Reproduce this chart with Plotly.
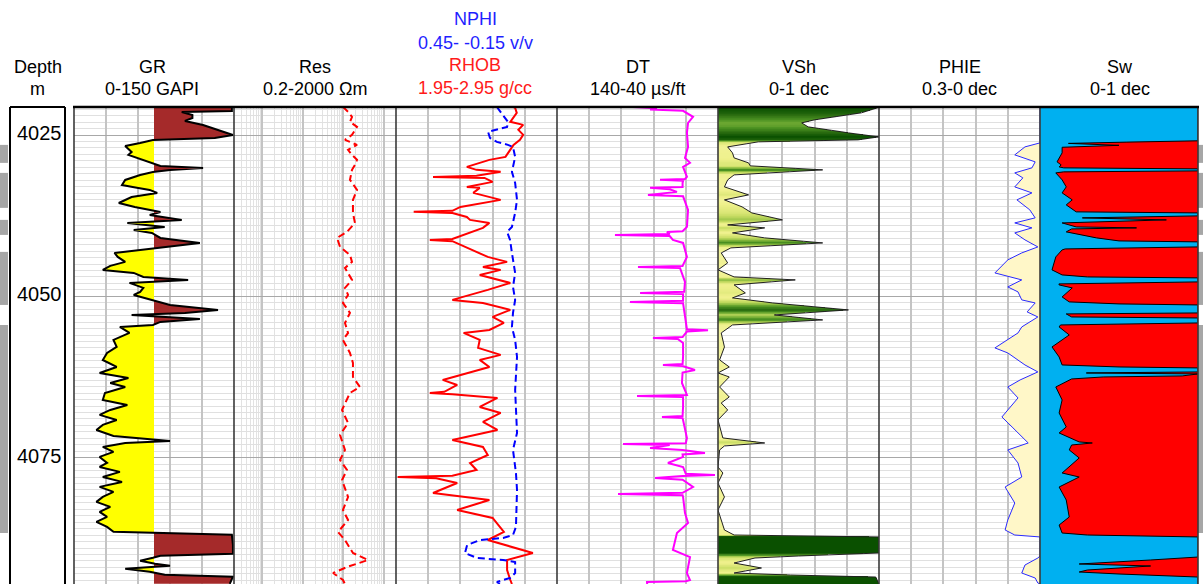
import numpy as np
import plotly.graph_objects as go

# ------------------------------------------------------------------ data
TOP_DEPTH, BASE_DEPTH = 4020.66, 4094.57
DEPTH_LABELS = [4025, 4050, 4075]
GR_CUTOFF = 75

GR_DEPTH = [4020.66, 4021.28, 4021.43, 4021.90, 4022.36, 4022.82, 4023.44, 4023.91, 4024.37, 4025.00,
            4025.46, 4025.77, 4026.23, 4026.70, 4027.32, 4027.63, 4028.09, 4028.56, 4029.33, 4029.80,
            4030.10, 4030.41, 4030.72, 4031.19, 4031.96, 4032.74, 4033.05, 4033.51, 4033.98, 4034.60,
            4035.53, 4036.15, 4036.92, 4037.39, 4038.16, 4038.62, 4039.24, 4039.71, 4040.17, 4040.95,
            4041.72, 4042.34, 4042.81, 4043.27, 4043.89, 4044.66, 4045.28, 4045.90, 4046.37, 4046.99,
            4047.45, 4047.76, 4047.92, 4048.69, 4049.31, 4049.78, 4050.55, 4051.33, 4052.10, 4052.57,
            4052.88, 4053.50, 4053.96, 4054.43, 4054.74, 4055.67, 4056.75, 4057.84, 4058.77, 4059.86,
            4060.94, 4061.87, 4062.64, 4063.42, 4064.04, 4064.97, 4066.05, 4066.83, 4067.60, 4068.37,
            4069.15, 4069.92, 4070.70, 4071.63, 4072.40, 4072.71, 4073.33, 4074.10, 4074.88, 4075.81,
            4076.43, 4077.20, 4077.98, 4078.75, 4079.52, 4080.30, 4081.07, 4081.85, 4082.62, 4083.39,
            4084.17, 4084.94, 4085.72, 4086.49, 4086.95, 4088.50, 4089.89, 4090.20, 4090.51, 4090.97,
            4091.44, 4091.75, 4092.21, 4092.68, 4093.14, 4093.45, 4094.54]
GR = [148, 148, 101, 111, 111, 104, 121, 130, 139, 149,
      132, 74, 62, 48, 52, 54, 51, 59, 71, 81,
      121, 90, 74, 62, 48, 45, 55, 71, 78, 54,
      42, 57, 81, 71, 101, 50, 85, 56, 73, 81,
      118, 85, 62, 38, 41, 48, 34, 27, 56, 65,
      107, 71, 52, 65, 62, 56, 74, 90, 135, 104,
      54, 118, 81, 74, 43, 52, 37, 40, 31, 27,
      40, 24, 51, 34, 48, 29, 27, 50, 34, 24,
      40, 27, 21, 37, 90, 48, 27, 37, 24, 31,
      24, 43, 27, 45, 24, 37, 27, 21, 34, 24,
      31, 21, 31, 37, 148, 149, 149, 81, 74, 62,
      76, 90, 48, 71, 85, 149, 146]

RES_DEPTH = [4020.64, 4021.41, 4022.19, 4022.96, 4023.74, 4024.98, 4025.75, 4026.53, 4027.30, 4028.08,
             4028.85, 4029.63, 4030.40, 4031.95, 4033.50, 4035.05, 4037.07, 4038.62, 4040.01, 4040.94,
             4042.34, 4043.58, 4044.66, 4045.59, 4047.45, 4048.69, 4049.78, 4051.02, 4052.57, 4054.12,
             4055.67, 4056.75, 4058.77, 4060.32, 4062.49, 4064.04, 4064.97, 4065.59, 4067.60, 4069.62,
             4071.48, 4073.80, 4075.35, 4076.90, 4078.45, 4081.09, 4083.10, 4084.65, 4086.51, 4087.75,
             4089.77, 4090.85, 4091.94, 4092.87, 4093.95, 4094.57]
RES = [98, 131, 164, 146, 218, 164, 110, 218, 131, 164,
       218, 194, 164, 146, 218, 173, 173, 194, 123, 70,
       83, 146, 164, 110, 164, 110, 131, 98, 146, 110,
       131, 98, 146, 173, 173, 258, 146, 131, 93, 131,
       83, 110, 83, 123, 93, 131, 98, 131, 74, 110,
       173, 407, 123, 56, 98, 110]

RHOB_DEPTH = [4020.66, 4020.79, 4021.57, 4022.96, 4023.43, 4024.20, 4024.98, 4025.75, 4026.53, 4027.61,
              4028.39, 4028.85, 4029.94, 4030.40, 4030.71, 4031.30, 4031.49, 4031.65, 4032.26, 4033.04,
              4033.19, 4033.97, 4035.05, 4036.14, 4036.75, 4036.91, 4037.10, 4037.69, 4038.15, 4038.62,
              4039.39, 4041.10, 4041.25, 4041.45, 4042.03, 4043.11, 4043.89, 4044.66, 4045.44, 4045.90,
              4046.68, 4047.92, 4049.00, 4050.55, 4051.02, 4052.10, 4053.19, 4054.12, 4055.20, 4055.67,
              4056.75, 4057.99, 4059.07, 4059.85, 4060.94, 4062.95, 4063.73, 4064.80, 4064.97, 4065.15,
              4065.74, 4067.14, 4068.07, 4069.46, 4070.70, 4072.25, 4073.34, 4074.58, 4075.82, 4076.90,
              4077.80, 4077.99, 4078.20, 4078.92, 4080.47, 4081.55, 4083.10, 4084.34, 4086.51, 4087.75,
              4089.77, 4090.85, 4092.40, 4093.95, 4094.57]
RHOB = [2.68, 2.69, 2.70, 2.66, 2.74, 2.71, 2.74, 2.72, 2.68, 2.65,
        2.63, 2.53, 2.39, 2.45, 2.60, 2.45, 2.18, 2.50, 2.55, 2.39,
        2.47, 2.43, 2.60, 2.35, 2.30, 2.06, 2.30, 2.39, 2.41, 2.53,
        2.49, 2.30, 2.16, 2.30, 2.35, 2.45, 2.52, 2.64, 2.49, 2.60,
        2.47, 2.66, 2.52, 2.30, 2.49, 2.66, 2.55, 2.62, 2.53, 2.37,
        2.47, 2.46, 2.60, 2.47, 2.53, 2.24, 2.33, 2.25, 2.16, 2.30,
        2.58, 2.47, 2.60, 2.49, 2.58, 2.30, 2.49, 2.52, 2.41, 2.45,
        2.30, 1.96, 2.20, 2.33, 2.18, 2.53, 2.33, 2.55, 2.62, 2.52,
        2.80, 2.64, 2.64, 2.66, 2.67]

NPHI_DEPTH = [4020.66, 4021.88, 4022.96, 4023.74, 4024.51, 4025.44, 4026.06, 4026.53, 4026.84, 4028.39,
              4030.71, 4032.42, 4035.05, 4037.07, 4039.24, 4040.01, 4041.25, 4043.27, 4046.37, 4048.54,
              4050.55, 4052.57, 4054.74, 4056.75, 4059.39, 4064.50, 4071.17, 4073.80, 4077.37, 4080.00,
              4085.74, 4086.98, 4087.44, 4087.75, 4088.53, 4089.77, 4090.54, 4090.85, 4091.16, 4092.87,
              4093.64, 4094.26, 4094.57]
NPHI = [0.074, 0.051, 0.033, 0.036, 0.107, 0.100, 0.074, 0.033, 0.014, 0.006,
        0.018, 0.006, -0.001, 0.006, 0.018, 0.036, 0.025, 0.018, 0.006, 0.014,
        0.006, 0.014, 0.018, 0.006, -0.001, 0.006, -0.001, 0.014, 0.003, -0.001,
        0.003, 0.014, 0.051, 0.137, 0.185, 0.193, 0.148, 0.051, 0.006, 0.006,
        0.025, 0.074, 0.060]

DT_DEPTH = [4020.66, 4020.85, 4021.05, 4021.25, 4022.19, 4023.12, 4024.66, 4026.84, 4028.54, 4029.32,
            4029.94, 4031.49, 4031.80, 4031.95, 4032.10, 4032.42, 4033.05, 4033.19, 4033.40, 4033.81,
            4034.28, 4034.50, 4036.60, 4039.24, 4039.90, 4040.01, 4040.35, 4040.48, 4040.65, 4041.25,
            4041.72, 4043.89, 4045.13, 4045.30, 4045.44, 4045.60, 4047.76, 4049.30, 4049.47, 4049.65,
            4050.70, 4050.86, 4051.05, 4053.19, 4055.10, 4055.25, 4055.45, 4056.30, 4056.44, 4056.60,
            4057.22, 4059.39, 4060.50, 4060.63, 4060.80, 4061.40, 4061.80, 4063.42, 4065.28, 4065.43,
            4065.60, 4067.14, 4068.55, 4068.69, 4068.85, 4069.15, 4071.94, 4072.75, 4072.87, 4073.05,
            4073.49, 4073.80, 4074.27, 4074.50, 4074.89, 4075.82, 4076.44, 4077.50, 4077.68, 4077.85,
            4078.14, 4078.40, 4079.54, 4080.45, 4080.62, 4080.80, 4081.09, 4083.57, 4085.12, 4086.67,
            4089.30, 4090.39, 4092.87, 4093.95, 4094.15, 4094.26, 4094.57]
DT = [92.8, 77.9, 82.2, 61.7, 55.5, 58.6, 59.3, 58.6, 60.5, 57.4,
      61.7, 59.3, 60.5, 76.0, 61.7, 62.0, 62.0, 82.2, 70.0, 65.5,
      83.5, 61.7, 58.6, 59.3, 62.0, 71.7, 70.0, 104.0, 70.0, 68.0,
      61.7, 59.3, 61.7, 62.0, 89.7, 63.6, 60.5, 61.0, 88.4, 61.7,
      61.7, 94.7, 61.7, 60.5, 59.3, 46.2, 59.3, 62.0, 80.4, 65.0,
      61.7, 61.7, 62.0, 74.2, 62.0, 54.3, 62.0, 62.4, 59.3, 90.3,
      61.7, 61.7, 62.0, 74.8, 62.0, 61.7, 59.3, 60.0, 99.0, 70.0,
      82.2, 62.0, 48.1, 62.0, 61.7, 71.1, 61.7, 60.0, 41.9, 62.0,
      79.1, 62.0, 55.5, 62.0, 102.1, 62.0, 61.7, 60.5, 58.6, 65.5,
      68.0, 57.4, 59.3, 57.4, 60.0, 84.1, 84.0]

VSH_DEPTH = [4020.64, 4020.79, 4021.57, 4022.65, 4023.12, 4023.74, 4024.51, 4024.67, 4025.29, 4025.75,
             4026.06, 4026.84, 4027.77, 4028.54, 4029.32, 4029.78, 4030.40, 4030.71, 4031.18, 4031.95,
             4033.04, 4034.28, 4035.05, 4036.14, 4037.07, 4038.15, 4038.93, 4039.39, 4040.17, 4040.94,
             4041.72, 4042.49, 4043.27, 4044.82, 4045.90, 4046.99, 4047.45, 4048.22, 4049.47, 4050.24,
             4051.02, 4052.10, 4052.88, 4053.65, 4054.43, 4055.67, 4057.84, 4059.85, 4060.94, 4061.87,
             4062.49, 4064.04, 4065.59, 4066.52, 4067.60, 4069.15, 4071.94, 4072.72, 4073.18, 4073.80,
             4076.44, 4077.37, 4078.92, 4081.09, 4083.10, 4086.20, 4086.98, 4087.28, 4089.77, 4090.23,
             4090.54, 4091.32, 4092.09, 4092.87, 4093.18, 4093.49, 4094.57]
VSH = [1.0, 0.99, 0.89, 0.60, 0.52, 0.56, 0.77, 0.81, 1.0, 0.87,
       0.25, 0.06, 0.09, 0.10, 0.19, 0.20, 0.65, 0.40, 0.10, 0.06,
       0.04, 0.19, 0.04, 0.15, 0.21, 0.40, 0.06, 0.29, 0.09, 0.29,
       0.65, 0.08, 0.02, 0.06, 0.0, 0.10, 0.48, 0.10, 0.17, 0.09,
       0.34, 0.81, 0.35, 0.65, 0.09, 0.02, 0.04, 0.01, 0.07, 0.0,
       0.07, 0.01, 0.07, 0.02, 0.06, 0.0, 0.03, 0.29, 0.04, 0.01,
       0.0, 0.03, 0.0, 0.04, 0.0, 0.04, 0.10, 1.0, 1.0, 0.50,
       0.23, 0.10, 0.27, 0.10, 0.45, 0.98, 1.0]

PHIE_DEPTH = [4020.66, 4026.06, 4026.22, 4026.84, 4028.08, 4029.16, 4030.09, 4030.87, 4031.64, 4033.04,
              4033.97, 4035.05, 4036.60, 4037.84, 4038.62, 4039.39, 4040.17, 4041.25, 4042.34, 4043.27,
              4044.35, 4046.37, 4047.45, 4048.54, 4049.31, 4050.55, 4051.02, 4052.41, 4053.19, 4054.74,
              4055.67, 4057.99, 4058.77, 4060.63, 4061.71, 4062.95, 4064.04, 4065.74, 4068.69, 4070.24,
              4072.72, 4073.80, 4075.82, 4077.99, 4079.54, 4082.02, 4084.65, 4086.20, 4086.98, 4087.28,
              4090.23, 4090.54, 4091.63, 4092.87, 4093.64, 4094.42, 4094.57]
PHIE = [0.0, 0.0, 0.0, 0.028, 0.047, 0.009, 0.015, 0.047, 0.032, 0.047,
        0.015, 0.043, 0.019, 0.009, 0.047, 0.015, 0.047, 0.028, 0.004, 0.034,
        0.060, 0.084, 0.034, 0.060, 0.041, 0.034, 0.009, 0.024, 0.004, 0.034,
        0.041, 0.084, 0.060, 0.028, 0.004, 0.037, 0.060, 0.041, 0.071, 0.052,
        0.022, 0.060, 0.041, 0.034, 0.065, 0.047, 0.060, 0.065, 0.047, 0.0,
        0.0, 0.004, 0.028, 0.034, 0.009, 0.004, 0.0]

SW_DEPTH = [4020.66, 4025.90, 4026.10, 4026.30, 4026.60, 4026.90, 4027.77, 4029.16, 4029.63, 4029.94,
            4030.09, 4030.25, 4030.56, 4030.71, 4030.87, 4031.95, 4033.04, 4033.97, 4035.05, 4035.83,
            4036.91, 4037.07, 4037.53, 4037.84, 4038.15, 4038.46, 4038.62, 4039.24, 4039.39, 4039.55,
            4040.01, 4040.94, 4041.41, 4041.56, 4042.34, 4042.65, 4042.80, 4043.89, 4045.90, 4046.68,
            4046.99, 4047.14, 4047.76, 4048.07, 4048.23, 4048.69, 4050.09, 4050.86, 4051.17, 4051.33,
            4052.57, 4052.72, 4053.19, 4053.35, 4054.12, 4054.43, 4054.74, 4055.98, 4057.84, 4059.39,
            4060.63, 4060.94, 4061.09, 4061.71, 4061.87, 4062.02, 4062.33, 4062.49, 4062.80, 4064.04,
            4066.05, 4068.07, 4070.24, 4071.17, 4072.56, 4072.72, 4073.03, 4073.80, 4075.04, 4077.37,
            4077.99, 4079.54, 4081.55, 4084.19, 4085.43, 4086.67, 4086.98, 4087.28, 4090.39, 4090.85,
            4091.16, 4091.47, 4091.78, 4092.09, 4092.40, 4092.71, 4093.02, 4093.49, 4094.57]
SW = [1.0, 1.0, 0.55, 0.18, 0.50, 0.14, 0.14, 0.108, 0.134, 0.121,
      0.15, 1.0, 1.0, 0.15, 0.10, 0.14, 0.166, 0.14, 0.204, 0.166,
      0.229, 1.0, 1.0, 0.268, 0.80, 0.30, 0.14, 0.229, 0.611, 0.20,
      0.166, 0.357, 0.50, 1.0, 1.0, 0.16, 0.14, 0.10, 0.076, 0.14,
      0.30, 1.0, 1.0, 0.12, 0.121, 0.204, 0.14, 0.185, 0.50, 1.0,
      1.0, 0.166, 0.20, 1.0, 1.0, 0.13, 0.121, 0.185, 0.076, 0.121,
      0.14, 0.50, 1.0, 1.0, 0.293, 1.0, 0.90, 0.40, 0.20, 0.10,
      0.14, 0.121, 0.166, 0.121, 0.248, 0.331, 0.20, 0.185, 0.248, 0.14,
      0.248, 0.121, 0.166, 0.185, 0.121, 0.14, 0.30, 1.0, 1.0, 0.70,
      0.50, 0.248, 0.70, 0.50, 0.30, 0.248, 0.50, 1.0, 1.0]

FLAG_TOP = [4026.53, 4030.87, 4038.15, 4043.11, 4054.43]
FLAG_BASE = [4029.32, 4036.29, 4040.48, 4051.33, 4086.67]

# ------------------------------------------------------------------ layout helpers
W, H = 1203, 584
TOPPX = 107
FONT = "Liberation Sans, Arial, sans-serif"
VGRID = "#c4c4c4"


def dom(a, b):
    return [a / W, b / W]


def py(p):
    return (H - p) / (H - TOPPX)


def pair(d, v):
    n = min(len(d), len(v))
    return np.array(d[:n], float), np.array(v[:n], float)


def split_cross(d, v, level):
    nd, nv = [d[0]], [v[0]]
    for i in range(1, len(d)):
        a, b = v[i - 1], v[i]
        if (a - level) * (b - level) < 0:
            t = (level - a) / (b - a)
            nd.append(d[i - 1] + t * (d[i] - d[i - 1]))
            nv.append(level)
        nd.append(d[i])
        nv.append(v[i])
    return np.array(nd), np.array(nv)


fig = go.Figure()
NOLINE = dict(width=0, color="rgba(0,0,0,0)")

# ---- depth labels
fig.add_trace(go.Scatter(x=[0.53] * len(DEPTH_LABELS), y=DEPTH_LABELS, mode="text",
                         text=[str(d) for d in DEPTH_LABELS],
                         textfont=dict(size=20, family=FONT, color="black"),
                         xaxis="x", yaxis="y2", hoverinfo="skip"))

# ---- GR track
gd, gv = pair(GR_DEPTH, GR)
gd2, gv2 = split_cross(gd, gv, GR_CUTOFF)
base = np.full_like(gd2, GR_CUTOFF)
fig.add_trace(go.Scatter(x=base, y=gd2, mode="lines", line=NOLINE, xaxis="x2", yaxis="y", hoverinfo="skip"))
fig.add_trace(go.Scatter(x=np.minimum(gv2, GR_CUTOFF), y=gd2, mode="lines", line=NOLINE, fill="tonextx",
                         fillcolor="#ffff00", xaxis="x2", yaxis="y", hoverinfo="skip"))
fig.add_trace(go.Scatter(x=base, y=gd2, mode="lines", line=NOLINE, xaxis="x2", yaxis="y", hoverinfo="skip"))
fig.add_trace(go.Scatter(x=np.maximum(gv2, GR_CUTOFF), y=gd2, mode="lines", line=NOLINE, fill="tonextx",
                         fillcolor="#a52a2a", xaxis="x2", yaxis="y", hoverinfo="skip"))
fig.add_trace(go.Scatter(x=gv, y=gd, mode="lines", line=dict(color="black", width=2),
                         xaxis="x2", yaxis="y", name="GR"))

# ---- Res track
rd, rv = pair(RES_DEPTH, RES)
fig.add_trace(go.Scatter(x=rv, y=rd, mode="lines", line=dict(color="#ff0000", width=2, dash="7px,4px"),
                         xaxis="x3", yaxis="y", name="Res"))

# ---- RHOB / NPHI track
hd, hv = pair(RHOB_DEPTH, RHOB)
fig.add_trace(go.Scatter(x=hv, y=hd, mode="lines", line=dict(color="#ff0000", width=2),
                         xaxis="x4", yaxis="y", name="RHOB"))
nd_, nv_ = pair(NPHI_DEPTH, NPHI)
fig.add_trace(go.Scatter(x=nv_, y=nd_, mode="lines", line=dict(color="#0000ff", width=2, dash="7px,4px"),
                         xaxis="x5", yaxis="y", name="NPHI"))

# ---- DT track
dd, dv = pair(DT_DEPTH, DT)
fig.add_trace(go.Scatter(x=dv, y=dd, mode="lines", line=dict(color="#ff00ff", width=2),
                         xaxis="x6", yaxis="y", name="DT"))

# ---- VSh track (colour fill by value)
vd, vv = pair(VSH_DEPTH, VSH)
dfine = np.arange(TOP_DEPTH, BASE_DEPTH + 0.1, 0.1)
vf = np.interp(dfine, vd, vv)
xs = (np.arange(161) + 0.5) / 161
z = np.where(xs[None, :] <= vf[:, None], vf[:, None], np.nan)
fig.add_trace(go.Heatmap(x=xs, y=dfine, z=z, zmin=0, zmax=1, showscale=False, hoverinfo="skip",
                         colorscale=[[0, "#f4f4a0"], [0.12, "#eef08a"], [0.3, "#c6dc62"], [0.45, "#8cbc40"],
                                     [0.6, "#4c9222"], [0.8, "#2a6c10"], [1, "#0a5000"]],
                         xaxis="x7", yaxis="y"))
fig.add_trace(go.Scatter(x=vv, y=vd, mode="lines", line=dict(color="#202020", width=1),
                         xaxis="x7", yaxis="y", name="VSh"))

# ---- PHIE track
pd_, pv = pair(PHIE_DEPTH, PHIE)
fig.add_trace(go.Scatter(x=pv, y=pd_, mode="lines", line=dict(color="#2a2aff", width=1), fill="tozerox",
                         fillcolor="#fff7c8", xaxis="x8", yaxis="y", name="PHIE"))

# ---- Sw track: blue background over the track, red hydrocarbon fill from curve to 1
fig.add_trace(go.Scatter(x=[0, 1, 1, 0, 0], y=[TOP_DEPTH, TOP_DEPTH, BASE_DEPTH, BASE_DEPTH, TOP_DEPTH],
                         mode="lines", line=NOLINE, fill="toself", fillcolor="#00b0f0",
                         xaxis="x9", yaxis="y", hoverinfo="skip"))
sd, sv = pair(SW_DEPTH, SW)
fig.add_trace(go.Scatter(x=np.ones_like(sd), y=sd, mode="lines", line=NOLINE, xaxis="x9", yaxis="y",
                         hoverinfo="skip"))
fig.add_trace(go.Scatter(x=sv, y=sd, mode="lines", line=dict(color="black", width=1), fill="tonextx",
                         fillcolor="#ff0000", xaxis="x9", yaxis="y", name="Sw"))

# ------------------------------------------------------------------ axes
TRACKS = {"x": (10, 65), "x2": (74, 234), "x3": (234, 396), "x4": (396, 557), "x5": (396, 557),
          "x6": (557, 718), "x7": (718, 879), "x8": (879, 1040), "x9": (1040, 1198)}


def xax(key, rng, dtick=None, tick0=0, grid=True, typ="linear", anchor="y", **kw):
    d = dict(domain=dom(*TRACKS[key]), range=rng, type=typ, showticklabels=False, ticks="",
             zeroline=False, showline=False, showgrid=grid, gridcolor=VGRID, gridwidth=1.5,
             anchor=anchor, fixedrange=True)
    if dtick is not None:
        d.update(tickmode="linear", dtick=dtick, tick0=tick0)
    d.update(kw)
    return d


layout_axes = dict(
    xaxis=xax("x", [0, 1], grid=False, anchor="y2"),
    xaxis2=xax("x2", [0, 150], 30, 0),
    xaxis3=xax("x3", [np.log10(0.2), np.log10(2000)], 1, 0, typ="log",
               minor=dict(dtick="D1", showgrid=True, gridcolor="#e2e2e2", gridwidth=1)),
    xaxis4=xax("x4", [1.95, 2.95], 0.2, 1.95),
    xaxis5=xax("x5", [0.45, -0.15], grid=False, overlaying="x4"),
    xaxis6=xax("x6", [140, 40], 20, 40),
    xaxis7=xax("x7", [0, 1], 0.2, 0),
    xaxis8=xax("x8", [0.3, 0], 0.06, 0),
    xaxis9=xax("x9", [0, 1], grid=False),
    yaxis=dict(domain=[0, 1], range=[BASE_DEPTH, TOP_DEPTH], anchor="x2", showticklabels=False, ticks="",
               zeroline=False, showline=False, tickmode="linear", tick0=4025, dtick=25, showgrid=True,
               gridcolor="#a8a8a8", gridwidth=1,
               minor=dict(tickmode="linear", tick0=4020, dtick=1, showgrid=True, gridcolor="#e0e0e0",
                          gridwidth=1.2), fixedrange=True),
    yaxis2=dict(domain=[0, 1], range=[BASE_DEPTH, TOP_DEPTH], anchor="x", showticklabels=False, ticks="",
                zeroline=False, showline=False, showgrid=False, fixedrange=True),
)

# ------------------------------------------------------------------ shapes
shapes = []
# pay flags
for t, b in zip(FLAG_TOP, FLAG_BASE):
    for x0, x1 in ((0, 8 / W), (1198 / W, 1)):
        shapes.append(dict(type="rect", xref="paper", yref="y", x0=x0, x1=x1, y0=t, y1=b,
                           fillcolor="#a6a6a6", line=dict(width=0), layer="above"))
# track separators
for px in (74, 234, 396, 557, 718, 879, 1040, 1198):
    shapes.append(dict(type="line", xref="paper", yref="paper", x0=px / W, x1=px / W, y0=0, y1=1,
                       line=dict(color="#3a3a3a", width=1.6), layer="above"))
# top border
shapes.append(dict(type="line", xref="paper", yref="paper", x0=73 / W, x1=1199 / W, y0=1, y1=1,
                   line=dict(color="black", width=2.5), layer="above"))
# depth box
for x0, x1, y0, y1 in ((10, 10, 0, 1), (65, 65, 0, 1), (10, 65, 1, 1)):
    shapes.append(dict(type="line", xref="paper", yref="paper", x0=x0 / W, x1=x1 / W, y0=y0, y1=y1,
                       line=dict(color="black", width=2), layer="above"))

# ------------------------------------------------------------------ headers
BLUE, RED = "#1f1fff", "#ff1a1a"
HEADERS = [
    (37.5, 67, "Depth", "black"), (37.5, 89, "m", "black"),
    (152, 67, "GR", "black"), (152, 89, "0-150 GAPI", "black"),
    (315, 67, "Res", "black"), (315, 89, "0.2-2000 Ωm", "black"),
    (475, 19, "NPHI", BLUE), (475, 43, "0.45- -0.15 v/v", BLUE),
    (475, 65, "RHOB", RED), (475, 88, "1.95-2.95 g/cc", RED),
    (637.5, 67, "DT", "black"), (637.5, 89, "140-40 µs/ft", "black"),
    (798.5, 67, "VSh", "black"), (798.5, 89, "0-1 dec", "black"),
    (959.5, 67, "PHIE", "black"), (959.5, 89, "0.3-0 dec", "black"),
    (1120, 67, "Sw", "black"), (1120, 89, "0-1 dec", "black"),
]
annotations = [dict(x=x / W, y=py(y), xref="paper", yref="paper", text=t, showarrow=False,
                    xanchor="center", yanchor="middle", font=dict(size=18, family=FONT, color=c))
               for x, y, t, c in HEADERS]

fig.update_layout(width=W, height=H, margin=dict(l=0, r=0, t=TOPPX, b=0), autosize=False,
                  paper_bgcolor="white", plot_bgcolor="white", showlegend=False,
                  shapes=shapes, annotations=annotations, **layout_axes)

fig.write_html("out.html")
